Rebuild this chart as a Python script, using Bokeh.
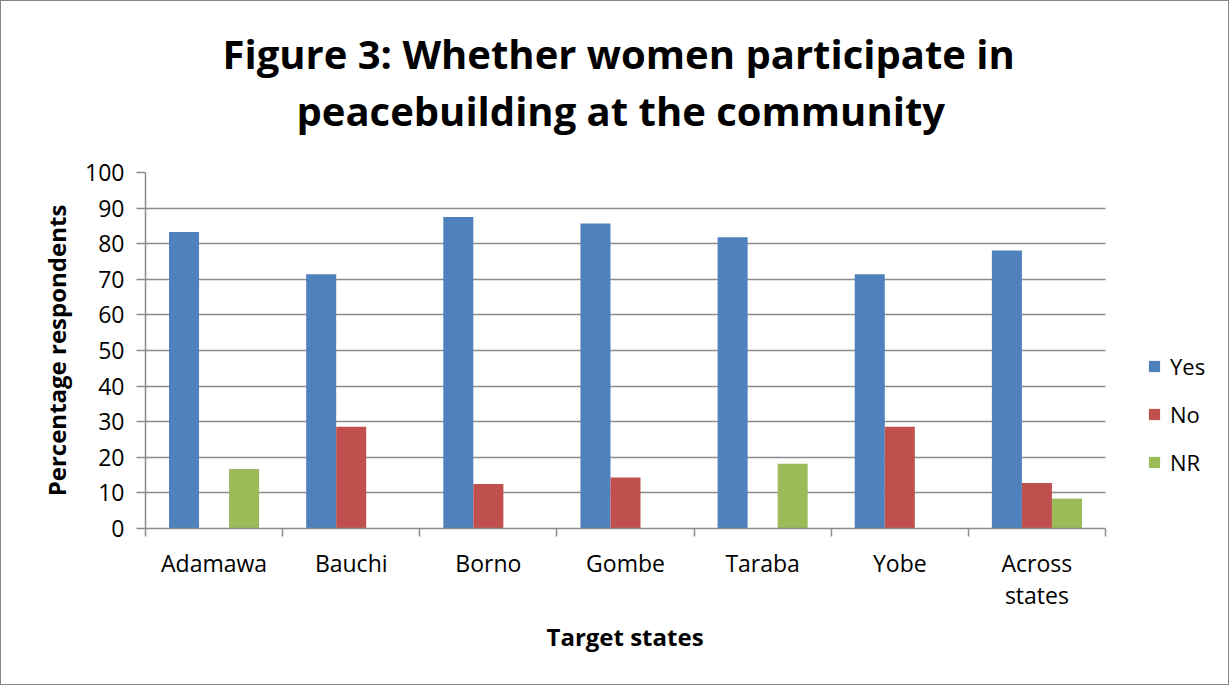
from bokeh.plotting import figure
from bokeh.models import (Range1d, FixedTicker, LinearAxis, Legend, LegendItem, Title, Grid)
from bokeh.embed import file_html
from bokeh.resources import INLINE

categories = ["Adamawa", "Bauchi", "Borno", "Gombe", "Taraba", "Yobe", "Across\nstates"]
yes = [83.3, 71.4, 87.5, 85.7, 81.8, 71.4, 78.1]
no = [0, 28.6, 12.5, 14.3, 0, 28.6, 12.8]
nr = [16.7, 0, 0, 0, 18.2, 0, 8.4]
series_names = ["Yes", "No", "NR"]
colors = ["#4F81BD", "#C0504D", "#9BBB59"]
y_ticks = list(range(0, 101, 10))
title_lines = ["Figure 3: Whether women participate in", "peacebuilding at the community"]
x_title = "Target states"
y_title = "Percentage respondents"

FONT = "Open Sans"
GRID = "#8C8C8C"

n = len(categories)
# plot frame: bars region is 960 px for the n categories; extra room on the right holds the legend
frame_left, bars_right, frame_right = 144, 1104, 1227
px_per_cat = (bars_right - frame_left) / n
x_end = n + (frame_right - bars_right) / px_per_cat

p = figure(width=1229, height=685, output_backend="svg", toolbar_location=None,
           x_range=Range1d(0, x_end), y_range=Range1d(0, 100),
           min_border_left=frame_left, min_border_right=1229 - frame_right,
           min_border_top=171, min_border_bottom=158,
           x_axis_type=None, y_axis_type=None)
p.styles = {"border": "1px solid #868686"}
p.outline_line_color = None
p.background_fill_color = "white"
p.border_fill_color = "white"
p.center = [c for c in p.center if not isinstance(c, Grid)]

# title: spacer nearest the frame, then line 2, then line 1
p.add_layout(Title(text=" ", text_font_size="1px", standoff=32), "above")
p.add_layout(Title(text=title_lines[1], align="left", offset=151, text_font=FONT,
                   text_font_size="40px", text_font_style="bold", text_color="black",
                   standoff=0), "above")
p.add_layout(Title(text=title_lines[0], align="left", offset=77, text_font=FONT,
                   text_font_size="40px", text_font_style="bold", text_color="black",
                   standoff=0), "above")

# y axis
yax = LinearAxis(ticker=FixedTicker(ticks=y_ticks), axis_label=y_title,
                 axis_label_text_font=FONT, axis_label_text_font_size="24px",
                 axis_label_text_font_style="bold", axis_label_text_color="black",
                 axis_label_standoff=9,
                 major_label_text_font=FONT, major_label_text_font_size="23px",
                 major_label_text_color="black", major_label_standoff=12,
                 axis_line_color=GRID, axis_line_width=1.5,
                 major_tick_line_color=GRID, major_tick_line_width=1.5,
                 major_tick_in=0, major_tick_out=9, minor_tick_line_color=None)
p.add_layout(yax, "left")

# x axis: labels at category centres, tick marks at category boundaries
centers = [i + 0.5 for i in range(n)]
xax = LinearAxis(ticker=FixedTicker(ticks=centers, minor_ticks=list(range(n + 1))),
                 bounds=(0, n),
                 major_label_overrides={c: lab for c, lab in zip(centers, categories)},
                 major_label_text_font=FONT, major_label_text_font_size="23px",
                 major_label_text_line_height=1.02,
                 major_label_text_color="black", major_label_standoff=10,
                 axis_line_color=GRID, axis_line_width=1.5,
                 major_tick_line_color=None, major_tick_in=0, major_tick_out=0,
                 minor_tick_line_color=GRID, minor_tick_line_width=1.5,
                 minor_tick_in=0, minor_tick_out=8)
p.add_layout(xax, "below")

# x-axis title, centred under the category region
p.add_layout(Title(text=x_title, align="left", offset=401, vertical_align="top",
                   text_font=FONT, text_font_size="24px", text_font_style="bold",
                   text_color="black", standoff=10), "below")

grid = Grid(dimension=1, ticker=FixedTicker(ticks=y_ticks),
            grid_line_color=GRID, grid_line_width=1.5)
if "cross_bounds" in grid.properties():
    grid.cross_bounds = (0, n)
p.add_layout(grid, "center")

bar_w = 0.219
offsets = [-bar_w, 0, bar_w]
items = []
for vals, name, col, off in zip([yes, no, nr], series_names, colors, offsets):
    xs = [i + 0.5 + off for i in range(n)]
    r = p.vbar(x=xs, top=vals, width=bar_w, fill_color=col, line_color=None)
    items.append(LegendItem(label=name, renderers=[r]))

legend = Legend(items=items, location=(1002, 51), orientation="vertical",
                label_text_font=FONT, label_text_font_size="22px", label_text_color="black",
                glyph_width=14, glyph_height=14, label_height=20, label_standoff=9,
                spacing=18, padding=0, margin=0, border_line_color=None,
                background_fill_alpha=0)
p.add_layout(legend, "center")

open("out.html", "w").write(file_html(p, INLINE))
